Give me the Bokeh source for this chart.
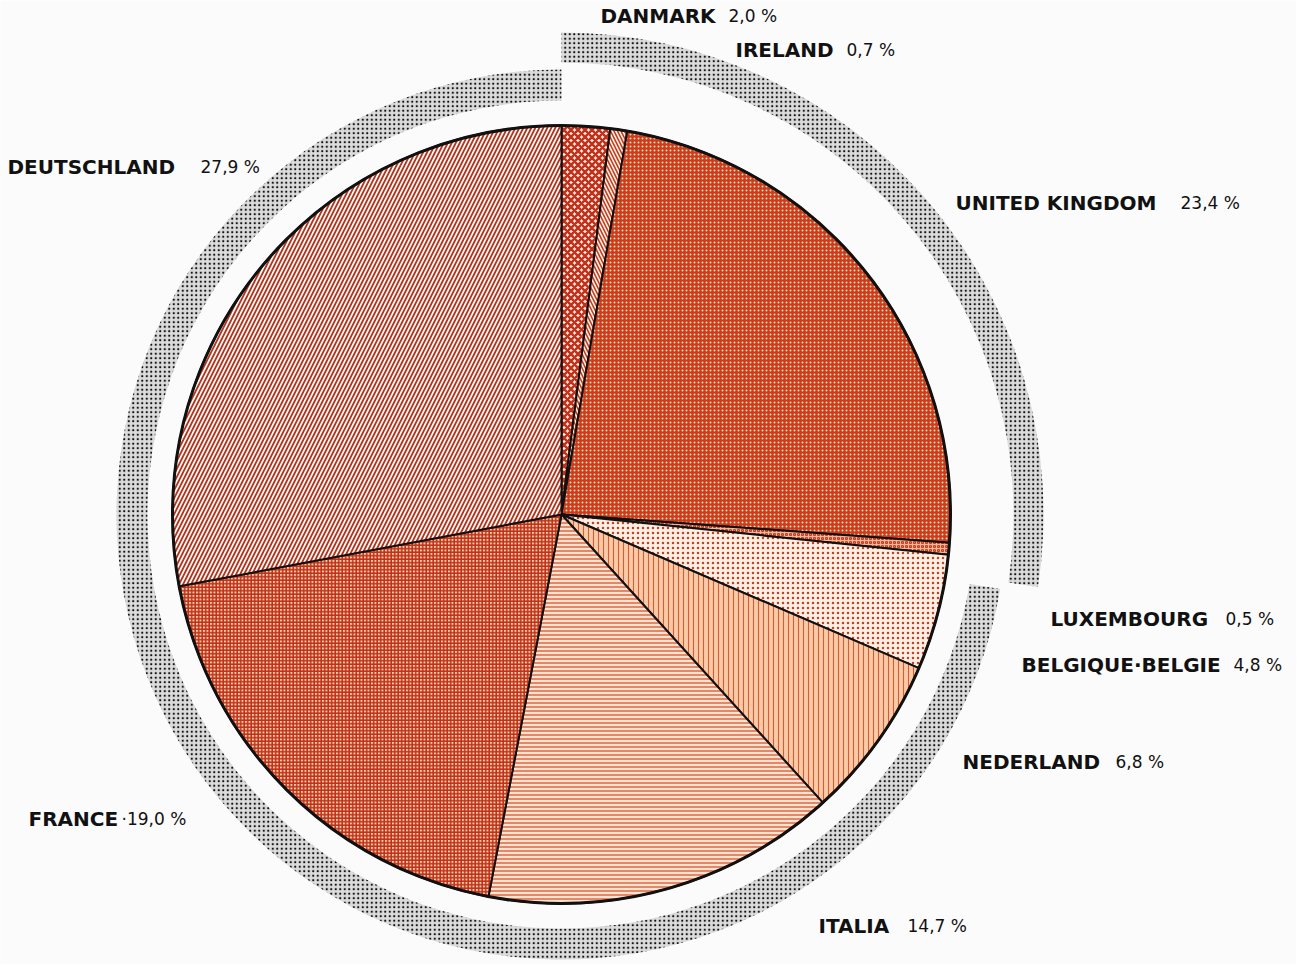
from bokeh.plotting import figure
from bokeh.models import ColumnDataSource, Range1d
from bokeh.core.properties import value
from bokeh.embed import file_html
from bokeh.resources import INLINE
import math

# ---- data ----
countries = ["DANMARK", "IRELAND", "UNITED KINGDOM", "LUXEMBOURG", "BELGIQUE\u00b7BELGIE",
             "NEDERLAND", "ITALIA", "FRANCE", "DEUTSCHLAND"]
shares = [2.0, 0.7, 23.4, 0.5, 4.8, 6.8, 14.7, 19.0, 27.9]
share_labels = ["2,0 %", "0,7  %", "23,4  %", "0,5 %", "4,8 %", "6,8 %", "14,7 %", "\u00b719,0 %", "27,9 %"]
# groups for the outer rings: first three (new members), last six (founders)
group_a = ["DANMARK", "IRELAND", "UNITED KINGDOM"]

# ---- styles ----
fills = ["#fbeee4", "#fdf3ea", "#cc3b1c", "#f0b89a", "#fcefe6", "#f7cba8", "#fbe3d2", "#f6cfa8", "#fefaf6"]
hatches = ["x", "\\", ".", "o", ".", "|", "-", "+", "/"]
hatch_cols = ["#c2301a", "#c83a1c", "#f7d9b0", "#c83a1c", "#c2401e", "#dd5a30", "#d9542a", "#c0301a", "#b8321c"]
hatch_scales = [7, 7, 4, 4, 5, 5, 4, 3.5, 8]
hatch_weights = [2.5, 1.6, 2.2, 1.2, 1.3, 1.1, 1.3, 1.6, 1.8]

# label layout (screen pixels of the page)
name_xy = [(600, 15), (735, 49), (955, 202), (1050, 618), (1021, 664),
           (962, 761), (818, 925), (28, 818), (7, 166)]
val_x = [728, 846, 1180, 1225, 1233, 1115, 907, 121, 200]

W, H = 1296, 964
p = figure(width=W, height=H, output_backend="svg", toolbar_location=None,
           x_range=Range1d(0, W), y_range=Range1d(-H, 0),
           min_border=0)
p.axis.visible = False
p.grid.visible = False
p.outline_line_color = None
p.background_fill_color = "#fbfbfb"
p.border_fill_color = "#fbfbfb"

cx, cy, R = 561, -514, 389

total = sum(shares)
starts, ends = [], []
cum = 0.0
for s in shares:
    starts.append(math.radians(90 - cum / total * 360))
    cum += s
    ends.append(math.radians(90 - cum / total * 360))

# outer grey rings
na = len(group_a)
ring_a_start = ends[na - 1] - math.radians(4.5)
ring_kw = dict(fill_color="#dcdcdc", line_color=None,
               hatch_pattern=".", hatch_color="#111111", hatch_scale=4.5, hatch_weight=3.4)
p.annular_wedge(x=cx, y=cy, inner_radius=452, outer_radius=482,
                start_angle=math.radians(90), end_angle=ring_a_start, direction="clock", **ring_kw)
p.annular_wedge(x=cx, y=cy, inner_radius=414, outer_radius=445,
                start_angle=ring_a_start - math.radians(1), end_angle=math.radians(90),
                direction="clock", **ring_kw)

src = ColumnDataSource(dict(
    start=starts, end=ends, fill=fills, hatch=hatches, hcol=hatch_cols,
    hscale=hatch_scales, hweight=hatch_weights))
p.wedge(x=cx, y=cy, radius=R, start_angle="start", end_angle="end", direction="clock",
        fill_color="fill", hatch_pattern="hatch", hatch_color="hcol",
        hatch_scale="hscale", hatch_weight="hweight",
        line_color="#111111", line_width=2, source=src)
p.circle(x=[cx], y=[cy], radius=R, fill_color=None, line_color="#111111", line_width=3)

lab = ColumnDataSource(dict(
    nx=[xy[0] for xy in name_xy], ny=[-xy[1] for xy in name_xy], name=countries,
    vx=val_x, val=share_labels))
p.text(x="nx", y="ny", text="name", source=lab, text_font=value("DejaVu Sans"),
       text_font_style="bold", text_font_size="20px", text_color="#111111",
       text_baseline="middle", text_align="left")
p.text(x="vx", y="ny", text="val", source=lab, text_font=value("DejaVu Sans"),
       text_font_size="17px", text_color="#111111",
       text_baseline="middle", text_align="left")

open("out.html", "w").write(file_html(p, INLINE))
